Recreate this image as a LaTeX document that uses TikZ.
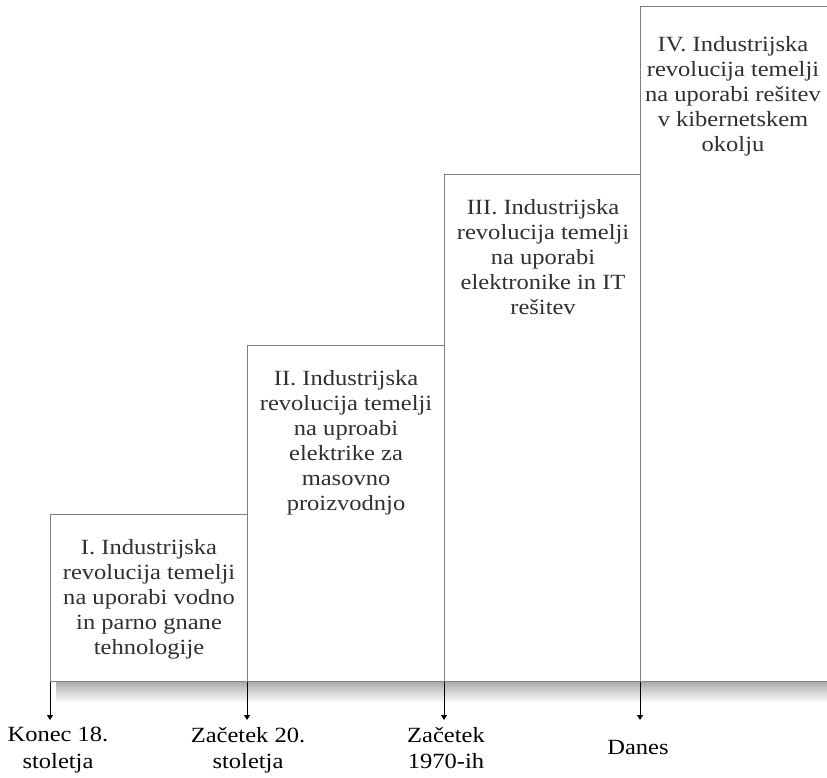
\documentclass[tikz,border=0pt]{standalone}
\usepackage{fontspec}
\setmainfont{Liberation Serif}
\newfontfamily\stagefont[FakeStretch=1.13]{Liberation Serif}
\usetikzlibrary{arrows.meta}
\definecolor{boxline}{HTML}{7F7F7F}
\definecolor{stagetext}{HTML}{303030}
\tikzset{
  stagebox/.style={draw=boxline, line width=1.1pt, fill=white, minimum width=197pt,
    inner sep=0pt, anchor=south west},
  stagelabel/.style={anchor=north, inner sep=0pt, align=center,
    text=stagetext, font=\stagefont\fontsize{21.7pt}{25pt}\selectfont},
  datelabel/.style={anchor=north, inner sep=0pt, align=center,
    font=\stagefont\fontsize{21.7pt}{26.5pt}\selectfont},
  timeline/.style={draw=black, line width=0.9pt, -{Triangle[width=6pt,length=5pt]}}
}
\begin{document}
\begin{tikzpicture}[x=1pt,y=-1pt]
\useasboundingbox (0,0) rectangle (827,778);
% soft shadow under the row of stages
\shade[top color=black!32, bottom color=white] (56,682) rectangle (827,703);
% the four stages
\node[stagebox, minimum height=167pt] (b1) at (50,682) {};
\node[stagebox, minimum height=336pt] (b2) at (247,682) {};
\node[stagebox, minimum height=507pt] (b3) at (444,682) {};
\node[stagebox, minimum height=675pt, minimum width=200pt] (b4) at (640,682) {};
\node[stagelabel] (s1) at ([yshift=-25pt]b1.north)
  {I. Industrijska\\revolucija temelji\\na uporabi vodno\\in parno gnane\\tehnologije};
\node[stagelabel] (s2) at ([yshift=-25pt]b2.north)
  {II. Industrijska\\revolucija temelji\\na uproabi\\elektrike za\\masovno\\proizvodnjo};
\node[stagelabel] (s3) at ([yshift=-25pt]b3.north)
  {III. Industrijska\\revolucija temelji\\na uporabi\\elektronike in IT\\rešitev};
\node[stagelabel] (s4) at (733,36)
  {IV. Industrijska\\revolucija temelji\\na uporabi rešitev\\v kibernetskem\\okolju};
% arrow ends on the time axis
\coordinate (t1) at (50,720);
\coordinate (t2) at (247,720);
\coordinate (t3) at (444,720);
\coordinate (t4) at (640,720);
\draw[timeline] (b1.south west) -- (t1);
\draw[timeline] (b2.south west) -- (t2);
\draw[timeline] (b3.south west) -- (t3);
\draw[timeline] (b4.south west) -- (t4);
% dates
\node[datelabel] (d1) at (58,727) {Konec 18.\\stoletja};
\node[datelabel] (d2) at (248,727) {Začetek 20.\\stoletja};
\node[datelabel] (d3) at (446,727) {Začetek\\ 1970-ih};
\node[datelabel] (d4) at (638,740) {Danes};
\end{tikzpicture}
\end{document}
